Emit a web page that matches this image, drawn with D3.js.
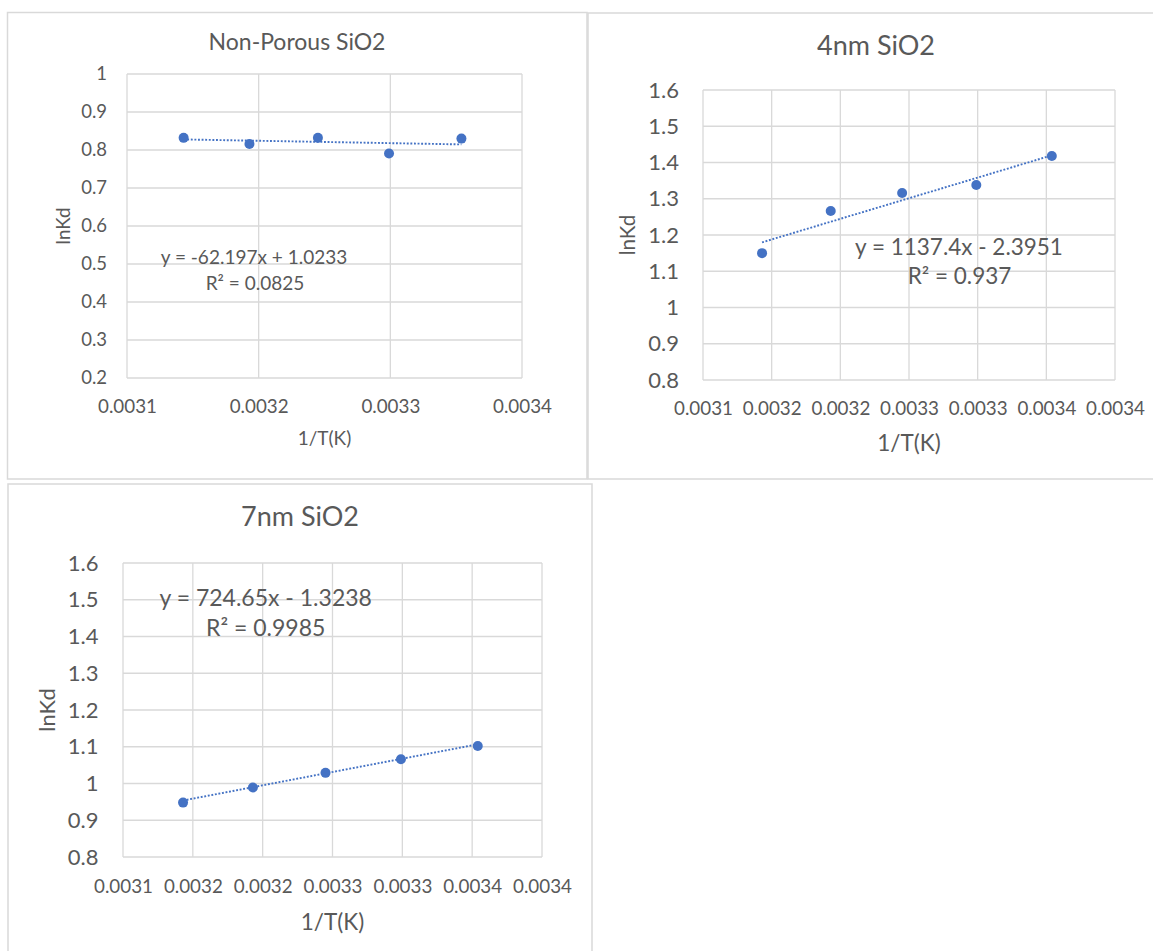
<!DOCTYPE html>
<meta charset="utf-8">
<head>
<style>
  body { margin: 0; background: #fff; }
  text { font-family: Lato, "Open Sans", sans-serif; fill: #595959; }
</style>
</head>
<script src="https://d3js.org/d3.v7.min.js"></script>
<body>
<div id="my_dataviz"></div>
<script>
// data
var invT = [0.003143, 0.003193, 0.003245, 0.003299, 0.003354];
var lnKdNonPorous = [0.832, 0.816, 0.832, 0.791, 0.830];
var lnKd4nm = [1.150, 1.266, 1.316, 1.338, 1.418];
var lnKd7nm = [0.948, 0.989, 1.029, 1.066, 1.102];

var panelTitles = ["Non-Porous SiO2", "4nm SiO2", "7nm SiO2"];
var trendSlopes = [-62.197, 1137.4, 724.65];
var trendIntercepts = [1.0233, -2.3951, -1.3238];
var trendLabels = ["y = -62.197x + 1.0233", "y = 1137.4x - 2.3951", "y = 724.65x - 1.3238"];
var r2Labels = ["R\u00b2 = 0.0825", "R\u00b2 = 0.937", "R\u00b2 = 0.9985"];

var yTicksNonPorous = [0.2, 0.3, 0.4, 0.5, 0.6, 0.7, 0.8, 0.9, 1];
var yTicksPorous = [0.8, 0.9, 1, 1.1, 1.2, 1.3, 1.4, 1.5, 1.6];
var xTicksNonPorous = [0.0031, 0.0032, 0.0033, 0.0034];
var xTickLabelsNonPorous = ["0.0031", "0.0032", "0.0033", "0.0034"];
var xTicksPorous = [0.0031, 0.00315, 0.0032, 0.00325, 0.0033, 0.00335, 0.0034];
var xTickLabelsPorous = ["0.0031", "0.0032", "0.0032", "0.0033", "0.0033", "0.0034", "0.0034"];
var xAxisTitle = "1/T(K)";
var yAxisTitle = "lnKd";

var blue = "#4472C4";
var grid = "#d9d9d9";

var svg = d3.select("#my_dataviz")
  .append("svg")
    .attr("width", 1153)
    .attr("height", 951);

// layout of each chart box (pixels)
var panels = [
  { values: lnKdNonPorous, xTicks: xTicksNonPorous, xLabels: xTickLabelsNonPorous, yTicks: yTicksNonPorous,
    box: [7.5, 12.5, 579.5, 466.5], l: 127, r: 522, t: 74, b: 378,
    title: [297, 42, 23], yTick: [107, 18.5], xTick: [406, 18.8], xTitle: [438, 19],
    yTitle: [63, 18.7], eq: [254, 257, 19], r2: [255, 283] },
  { values: lnKd4nm, xTicks: xTicksPorous, xLabels: xTickLabelsPorous, yTicks: yTicksPorous,
    box: [588, 13, 600, 466], l: 703, r: 1115, t: 90, b: 380,
    title: [876, 46, 27], yTick: [679, 22], xTick: [408, 18.8], xTitle: [443, 22.5],
    yTitle: [628, 20.6], eq: [959, 247, 22.5], r2: [959.5, 276] },
  { values: lnKd7nm, xTicks: xTicksPorous, xLabels: xTickLabelsPorous, yTicks: yTicksPorous,
    box: [8, 484, 584, 480], l: 123, r: 542, t: 563, b: 857,
    title: [300, 517, 27], yTick: [98.5, 22], xTick: [886.5, 18.8], xTitle: [922, 22.5],
    yTitle: [47, 22], eq: [265.7, 597.5, 23], r2: [265.7, 628.3] }
];

panels.forEach(function(p, i) {
  var g = svg.append("g");

  g.append("rect")
    .attr("x", p.box[0]).attr("y", p.box[1])
    .attr("width", p.box[2]).attr("height", p.box[3])
    .attr("fill", "#fff")
    .attr("stroke", grid)
    .attr("stroke-width", 1.5);

  var x = d3.scaleLinear()
    .domain([xTicksPorous[0], xTicksPorous[xTicksPorous.length - 1]])
    .range([p.l, p.r]);
  var y = d3.scaleLinear()
    .domain([p.yTicks[0], p.yTicks[p.yTicks.length - 1]])
    .range([p.b, p.t]);

  // gridlines
  g.selectAll(".hgrid").data(p.yTicks).enter().append("line")
    .attr("x1", p.l).attr("x2", p.r)
    .attr("y1", function(d) { return y(d); })
    .attr("y2", function(d) { return y(d); })
    .attr("stroke", grid).attr("stroke-width", 1.3);
  g.selectAll(".vgrid").data(p.xTicks).enter().append("line")
    .attr("y1", p.t).attr("y2", p.b)
    .attr("x1", function(d) { return x(d); })
    .attr("x2", function(d) { return x(d); })
    .attr("stroke", grid).attr("stroke-width", 1.3);

  // axes (labels only, Excel style)
  var yAxis = g.append("g")
    .attr("transform", "translate(" + (p.yTick[0]) + ",0)")
    .call(d3.axisLeft(y).tickValues(p.yTicks).tickSize(0).tickPadding(0).tickFormat(function(d) { return String(d); }));
  yAxis.select(".domain").remove();
  yAxis.selectAll("text")
    .attr("font-size", p.yTick[1])
    .style("font-family", "Lato, sans-serif")
    .attr("fill", "#595959");

  var xAxis = g.append("g")
    .attr("transform", "translate(0," + p.xTick[0] + ")")
    .call(d3.axisBottom(x).tickValues(p.xTicks).tickSize(0).tickPadding(0)
      .tickFormat(function(d, j) { return p.xLabels[j]; }));
  xAxis.select(".domain").remove();
  xAxis.selectAll("text")
    .attr("dy", "0.35em").attr("y", 0)
    .attr("font-size", p.xTick[1])
    .style("font-family", "Lato, sans-serif")
    .attr("fill", "#595959");

  // titles
  g.append("text")
    .attr("x", p.title[0]).attr("y", p.title[1]).attr("dy", "0.35em")
    .attr("text-anchor", "middle")
    .attr("font-size", p.title[2])
    .text(panelTitles[i]);
  g.append("text")
    .attr("x", (p.l + p.r) / 2).attr("y", p.xTitle[0]).attr("dy", "0.35em")
    .attr("text-anchor", "middle")
    .attr("font-size", p.xTitle[1])
    .text(xAxisTitle);
  g.append("text")
    .attr("transform", "translate(" + p.yTitle[0] + "," + ((p.t + p.b) / 2) + ") rotate(-90)")
    .attr("dy", "0.35em")
    .attr("text-anchor", "middle")
    .attr("font-size", p.yTitle[1])
    .text(yAxisTitle);

  // linear trendline between first and last point
  var ends = [invT[0], invT[invT.length - 1]];
  g.append("line")
    .attr("x1", x(ends[0])).attr("x2", x(ends[1]))
    .attr("y1", y(trendSlopes[i] * ends[0] + trendIntercepts[i]))
    .attr("y2", y(trendSlopes[i] * ends[1] + trendIntercepts[i]))
    .attr("stroke", blue)
    .attr("stroke-width", 1.9)
    .attr("stroke-dasharray", "1.9,1.7");

  g.selectAll(".dot").data(p.values).enter().append("circle")
    .attr("cx", function(d, j) { return x(invT[j]); })
    .attr("cy", function(d) { return y(d); })
    .attr("r", 5)
    .attr("fill", blue);

  g.append("text")
    .attr("x", p.eq[0]).attr("y", p.eq[1]).attr("dy", "0.35em")
    .attr("text-anchor", "middle")
    .attr("font-size", p.eq[2])
    .text(trendLabels[i]);
  g.append("text")
    .attr("x", p.r2[0]).attr("y", p.r2[1]).attr("dy", "0.35em")
    .attr("text-anchor", "middle")
    .attr("font-size", p.eq[2])
    .text(r2Labels[i]);
});
</script>
</body>
